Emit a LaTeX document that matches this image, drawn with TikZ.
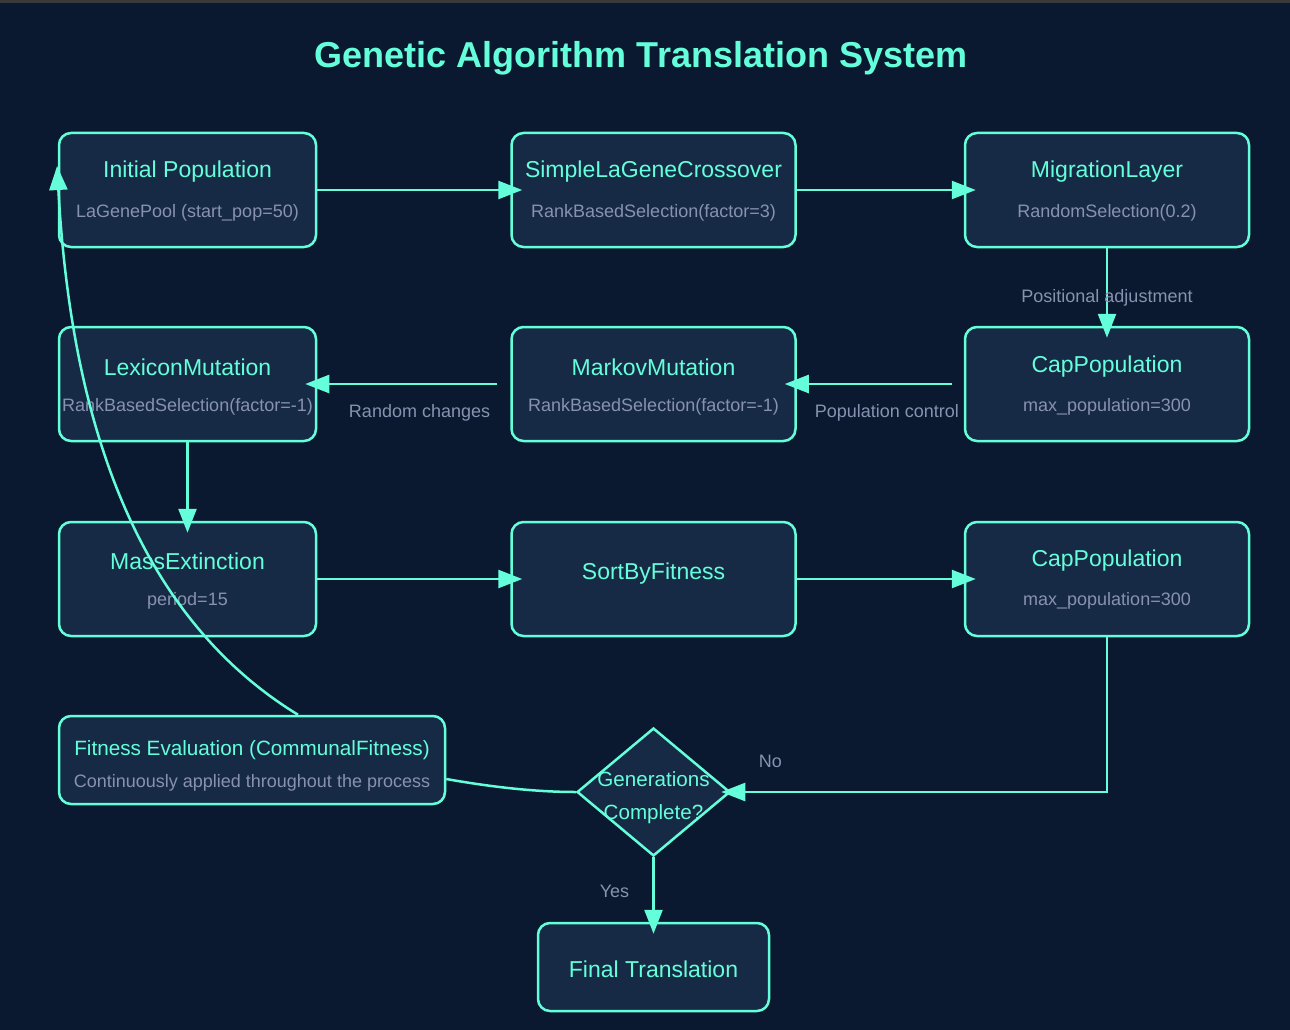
\documentclass[tikz,border=0pt]{standalone}
\usepackage{fontspec}
\setmainfont{Liberation Sans}
\usetikzlibrary{arrows.meta,shapes.geometric,calc}
\definecolor{bg}{HTML}{0A192F}
\definecolor{boxfill}{HTML}{172A45}
\definecolor{accent}{HTML}{64FFDA}
\definecolor{subgray}{HTML}{8892B0}
\definecolor{topbar}{HTML}{3A3A3A}
\begin{document}
\begin{tikzpicture}[x=1pt,y=-1pt,
  box/.style={draw=accent, fill=boxfill, line width=2.5pt, rounded corners=12pt,
    minimum width=#1, minimum height=114pt, inner sep=0pt},
  box/.default=284pt,
  smallbox/.style={draw=accent, fill=boxfill, line width=2.5pt, rounded corners=12pt,
    minimum width=#1, minimum height=88pt, inner sep=0pt},
  decision/.style={diamond, draw=accent, fill=boxfill, line width=2.5pt,
    minimum width=153pt, minimum height=128pt, inner sep=0pt},
  ttl/.style={text=accent, inner sep=0pt, font=\fontsize{23}{23}\selectfont},
  fttl/.style={text=accent, inner sep=0pt, font=\fontsize{20.7}{21}\selectfont},
  sub/.style={text=subgray, inner sep=0pt, font=\fontsize{18}{18}\selectfont},
  lbl/.style={text=subgray, inner sep=0pt, font=\fontsize{18}{18}\selectfont},
  dtext/.style={text=accent, inner sep=0pt, align=center, font=\fontsize{20.6}{33}\selectfont},
  edge/.style={draw=accent, line width=2.5pt, shorten >=-12pt,
    -{Triangle[length=24pt,width=18pt]}},
  conn/.style={draw=accent, line width=2.5pt}
]
% background
\fill[bg] (0,0) rectangle (1290,1030);
\fill[topbar] (0,0) rectangle (1290,3);
\useasboundingbox (0,0) rectangle (1290,1030);

% title
\node[text=accent, inner sep=0pt, font=\fontsize{36}{36}\selectfont\bfseries] (title) at (641,58) {Genetic Algorithm Translation System};

% row 1
\node[box=257pt] (init) at (187.5,190) {};
\node[ttl] (init-t) at ($(init)+(0,-18)$) {Initial Population};
\node[sub] (init-s) at ($(init)+(0,23)$) {LaGenePool (start\_pop=50)};

\node[box] (cross) at (653.5,190) {};
\node[ttl] (cross-t) at ($(cross)+(0,-18)$) {SimpleLaGeneCrossover};
\node[sub] (cross-s) at ($(cross)+(0,23)$) {RankBasedSelection(factor=3)};

\node[box] (mig) at (1107,190) {};
\node[ttl] (mig-t) at ($(mig)+(0,-18)$) {MigrationLayer};
\node[sub] (mig-s) at ($(mig)+(0,23)$) {RandomSelection(0.2)};

% row 2
\node[box=257pt] (lex) at (187.5,384) {};
\node[ttl] (lex-t) at ($(lex)+(0,-17)$) {LexiconMutation};
\node[sub] (lex-s) at ($(lex)+(0,23)$) {RankBasedSelection(factor=-1)};

\node[box] (markov) at (653.5,384) {};
\node[ttl] (markov-t) at ($(markov)+(0,-17)$) {MarkovMutation};
\node[sub] (markov-s) at ($(markov)+(0,23)$) {RankBasedSelection(factor=-1)};

\node[box] (capa) at (1107,384) {};
\node[ttl] (capa-t) at ($(capa)+(0,-17)$) {CapPopulation};
\node[sub] (capa-s) at ($(capa)+(0,23)$) {max\_population=300};

% row 3
\node[box=257pt] (mass) at (187.5,579) {};
\node[ttl] (mass-t) at ($(mass)+(0,-18)$) {MassExtinction};
\node[sub] (mass-s) at ($(mass)+(0,22)$) {period=15};

\node[box] (sort) at (653.5,579) {};
\node[ttl] (sort-t) at ($(sort)+(0,-5)$) {SortByFitness};

\node[box] (capb) at (1107,579) {};
\node[ttl] (capb-t) at ($(capb)+(0,-18)$) {CapPopulation};
\node[sub] (capb-s) at ($(capb)+(0,22)$) {max\_population=300};

% fitness evaluation
\node[smallbox=386pt] (fit) at (252,760) {};
\node[fttl] (fit-t) at ($(fit)+(0,-10)$) {Fitness Evaluation (CommunalFitness)};
\node[sub] (fit-s) at ($(fit)+(0,23)$) {Continuously applied throughout the process};

% decision
\node[decision] (dec) at (653.5,792) {};
\node[dtext] (dec-t) at ($(dec)+(0,6)$) {Generations\\Complete?};

% final
\node[smallbox=231pt] (final) at (653.5,967) {};
\node[ttl] (final-t) at ($(final)+(0,2)$) {Final Translation};

% edges
\draw[edge] (init) -- (cross);
\draw[edge] (cross) -- (mig);
\draw[edge] (mig) -- node[lbl, pos=0.64] (lbl-pos) {Positional adjustment} (capa);
\draw[edge, shorten <=12pt] (capa) -- node[lbl, pos=0.46, yshift=-29pt] (lbl-pop) {Population control} (markov);
\draw[edge, shorten <=13pt] (markov) -- node[lbl, pos=0.47, yshift=-29pt] (lbl-rand) {Random changes} (lex);
\draw[edge] (lex) -- (mass);
\draw[edge] (mass) -- (sort);
\draw[edge] (sort) -- (capb);
\draw[edge, shorten >=-10pt] (capb.south) |- node[lbl, pos=0.948, yshift=31pt] (lbl-no) {No} (dec.east);
\draw[edge] (dec.south) -- node[lbl, pos=0.53, xshift=-39pt] (lbl-yes) {Yes} (final.north);
\draw[conn] ($(fit.east)+(0,19)$) .. controls ($(fit.east)+(45,27)$) and ($(dec.west)+(-40,0)$) .. (dec.west);
\draw[edge] ($(fit.north)+(46,0)$) .. controls ($(fit.north)+(-136.6,-111.6)$) and ($(init.west)+(11,186)$) .. ($(init.west)+(0,-12)$);
\end{tikzpicture}
\end{document}
